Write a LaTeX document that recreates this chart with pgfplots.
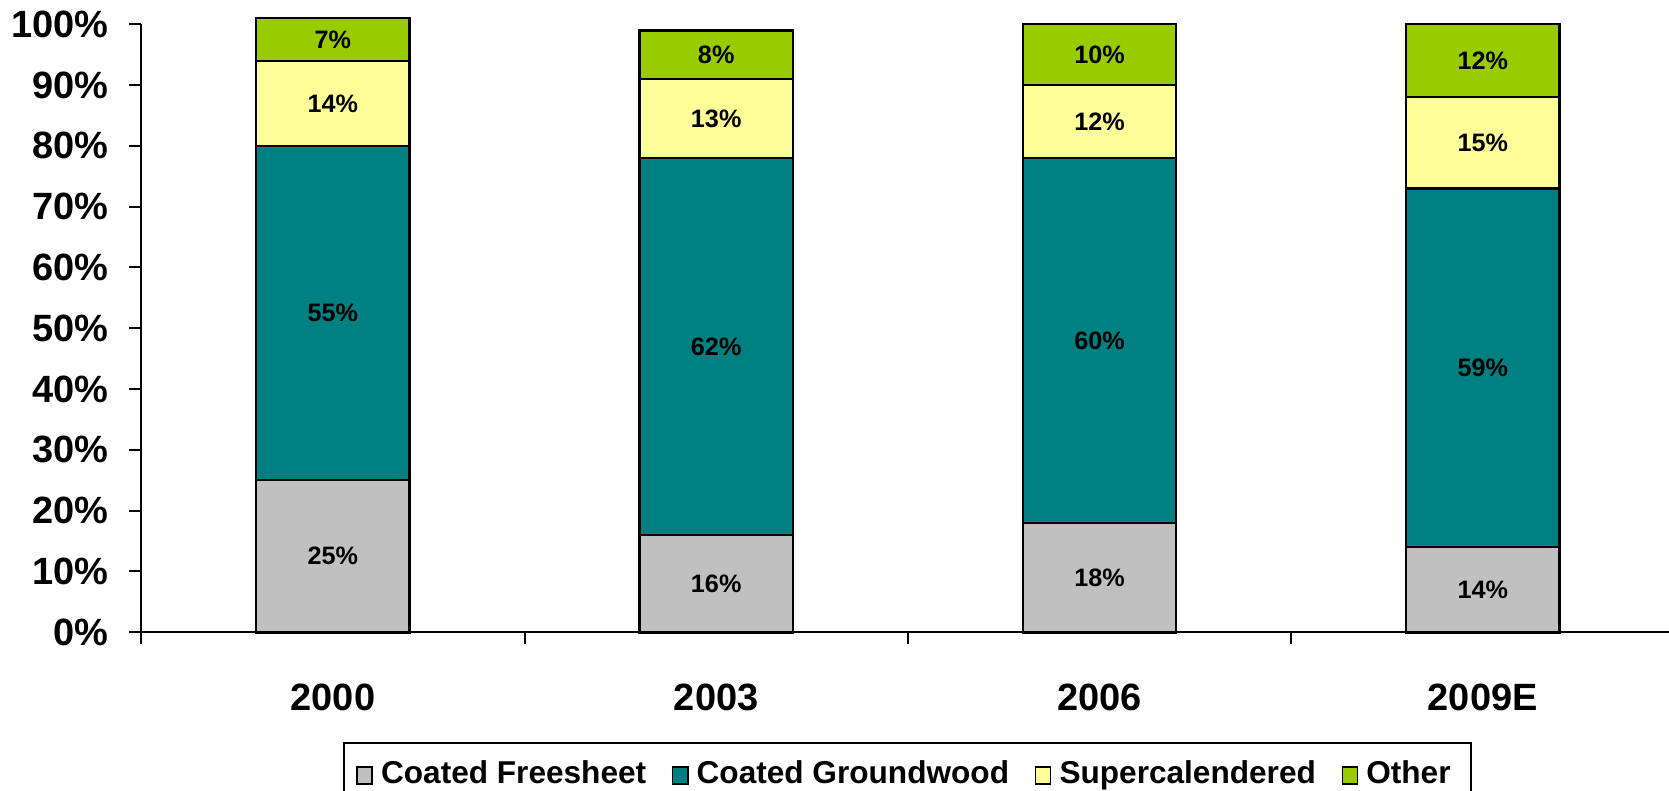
\documentclass[border=0pt]{standalone}
\usepackage{pgfplots}
\pgfplotsset{compat=1.18}
\usepackage{fontspec}
\setmainfont{Liberation Sans}

\definecolor{cfree}{HTML}{C0C0C0}
\definecolor{cground}{HTML}{008080}
\definecolor{csuper}{HTML}{FFFF99}
\definecolor{cother}{HTML}{99CC00}

% Market share by grade, in percent
\pgfplotstableread{
x  free ground super other
0  25   55     14    7
1  16   62     13    8
2  18   60     12    10
3  14   59     15    12
}\shares

\begin{document}
\begin{tikzpicture}
\begin{axis}[
  name=ax,
  scale only axis,
  width=381.925pt, height=152pt,
  xmin=-0.5, xmax=3.486,
  ymin=0, ymax=100,
  clip=false,
  axis x line=bottom, axis y line=left,
  axis line style={-, line width=0.5pt, black},
  tick align=outside,
  major tick length=3pt, minor tick length=3pt,
  tick style={line width=0.5pt, black},
  xtick={0,1,2,3},
  xticklabels={2000,2003,2006,2009E},
  minor xtick={-0.5,0.5,1.5,2.5},
  major x tick style={draw=none},
  xticklabel style={font=\fontsize{9.5}{11}\selectfont\bfseries, anchor=center, yshift=-13.2pt},
  ytick={0,10,...,100},
  yticklabel={\pgfmathprintnumber{\tick}\%},
  yticklabel style={font=\fontsize{9.5}{11}\selectfont\bfseries, anchor=east, xshift=-1.6pt},
  /pgf/number format/assume math mode=true,
  ybar stacked,
  bar width=0.4,
  every axis plot/.append style={draw=black, line width=0.6pt},
  % each segment carries its own share, set in the middle of the segment
  visualization depends on=rawy \as \rawy,
  nodes near coords={\pgfmathprintnumber{\rawy}\%},
  every node near coord/.append style={anchor=center,
    font=\fontsize{6.3}{7}\selectfont\bfseries, text=black},
  legend columns=-1,
  legend style={at={(0.5015,-0.1804)}, anchor=north, draw=black, line width=0.5pt,
    font=\fontsize{7.9}{9}\selectfont\bfseries, inner xsep=3pt, inner ysep=2.5pt,
    /tikz/every even column/.append style={column sep=4.4pt}},
  legend image code/.code={\draw[#1, line width=0.4pt] (0pt,-2.1pt) rectangle (3.8pt,2.1pt);},
]
\addplot[fill=cfree]   table[x=x, y=free]   {\shares};
\addplot[fill=cground] table[x=x, y=ground] {\shares};
\addplot[fill=csuper]  table[x=x, y=super]  {\shares};
\addplot[fill=cother]  table[x=x, y=other]  {\shares};
\legend{Coated Freesheet, Coated Groundwood, Supercalendered, Other}
\end{axis}
\pgfresetboundingbox
\path[use as bounding box] ([shift={(-35.325pt,-39.675pt)}]ax.south west)
  rectangle ([shift={(381.925pt,158.075pt)}]ax.south west);
\end{tikzpicture}
\end{document}
